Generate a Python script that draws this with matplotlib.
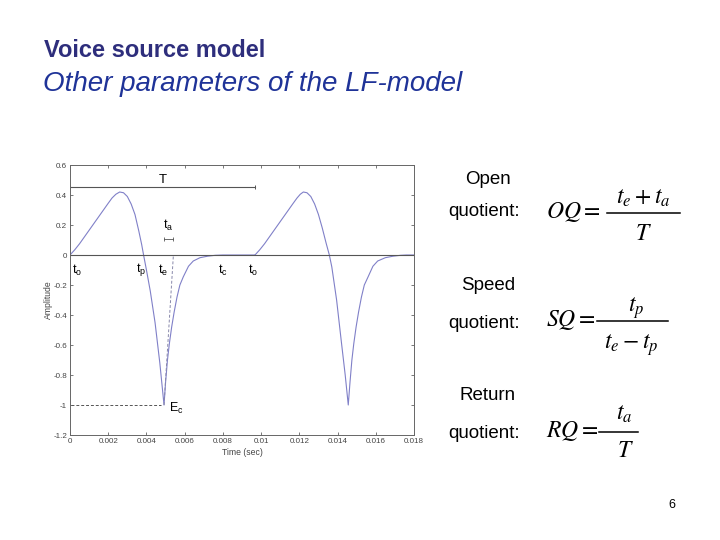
import numpy as np
import matplotlib
matplotlib.use('Agg')
import matplotlib.pyplot as plt
from matplotlib.lines import Line2D

plt.rcParams['font.family'] = ['Liberation Sans', 'DejaVu Sans']

# LF-model glottal flow derivative (time in ms)
t_cycle1 = [0, 0.25, 0.5, 0.75, 1.0, 1.25, 1.5, 1.75, 2.0, 2.2, 2.4, 2.6, 2.8, 3.0, 3.2, 3.4,
            3.6, 3.75, 3.85, 4.0, 4.2, 4.45, 4.7, 4.92, 5.0, 5.1, 5.2, 5.32, 5.45, 5.6, 5.75,
            5.93, 6.2, 6.45, 6.8, 7.2, 7.6, 8.0, 9.68]
a_cycle1 = [0, 0.035, 0.075, 0.12, 0.165, 0.21, 0.255, 0.3, 0.345, 0.38, 0.405, 0.42, 0.415,
            0.39, 0.34, 0.27, 0.16, 0.07, 0, -0.1, -0.24, -0.45, -0.72, -1.0, -0.85, -0.70,
            -0.59, -0.48, -0.38, -0.28, -0.2, -0.145, -0.075, -0.04, -0.018, -0.008, -0.002,
            0, 0]
t_cycle2 = [9.68, 9.93, 10.18, 10.43, 10.68, 10.93, 11.18, 11.43, 11.68, 11.88, 12.05, 12.21,
            12.4, 12.6, 12.8, 13.0, 13.2, 13.4, 13.57, 13.7, 13.95, 14.2, 14.4, 14.56, 14.65,
            14.75, 14.85, 14.97, 15.1, 15.25, 15.4, 15.6, 15.85, 16.1, 16.5, 16.9, 17.3, 17.6,
            18.0]
a_cycle2 = [0, 0.035, 0.075, 0.12, 0.165, 0.21, 0.255, 0.3, 0.345, 0.38, 0.405, 0.42, 0.415,
            0.39, 0.34, 0.27, 0.18, 0.08, 0, -0.08, -0.3, -0.58, -0.8, -1.0, -0.85, -0.70,
            -0.59, -0.48, -0.38, -0.28, -0.2, -0.145, -0.075, -0.04, -0.018, -0.008, -0.002,
            0, 0]

# instants (ms) and levels
t_o, t_p, t_e, t_c, t_o2 = 0.0, 3.85, 4.92, 8.0, 9.68
t_a_end = 5.41
E_e = -1.0
T_level = 0.453

xticks = [0, 0.002, 0.004, 0.006, 0.008, 0.01, 0.012, 0.014, 0.016, 0.018]
xticklabels = ['0', '0.002', '0.004', '0.006', '0.008', '0.01', '0.012', '0.014', '0.016', '0.018']
yticks = [0.6, 0.4, 0.2, 0, -0.2, -0.4, -0.6, -0.8, -1, -1.2]
yticklabels = ['0.6', '0.4', '0.2', '0', '-0.2', '-0.4', '-0.6', '-0.8', '-1', '-1.2']

ms = 1e-3
W, H = 720, 540

def fx(px):
    return px / W

def fy(py):
    return 1 - py / H

fig = plt.figure(figsize=(7.2, 5.4), dpi=100)
fig.patch.set_facecolor('white')

# slide titles
fig.text(fx(44), fy(57), 'Voice source model', fontsize=17, fontweight='bold',
         color='#2e2e7c', va='baseline', ha='left')
fig.text(fx(43), fy(91), 'Other parameters of the LF-model', fontsize=20, fontstyle='italic',
         color='#1f3398', va='baseline', ha='left')

# waveform axes
ax = fig.add_axes([fx(70), fy(435), 344 / W, 270 / H])
wave_col = '#8080c8'
ax.plot(np.array(t_cycle1) * ms, a_cycle1, color=wave_col, lw=0.8)
ax.plot(np.array(t_cycle2) * ms, a_cycle2, color=wave_col, lw=0.8)
ax.axhline(0, color='#555555', lw=0.8)

# return-phase tangent and E_e level
ax.plot([t_e * ms, t_a_end * ms], [E_e, 0], color='#8888aa', lw=0.7, ls=(0, (3, 2)))
ax.plot([0.05 * ms, 4.75 * ms], [E_e, E_e], color='#555555', lw=0.7, ls=(0, (3, 2)))

# period T
ax.plot([t_o * ms, t_o2 * ms], [T_level, T_level], color='#555555', lw=0.8)
ax.plot([t_o * ms, t_o2 * ms], [T_level, T_level], ls='none', marker='|', ms=3,
        color='#555555', mew=0.7)
ax.text((t_o + t_o2) / 2 * ms, 0.5, 'T', fontsize=9.5, ha='center', va='center')

# t_a bracket
ax.plot([t_e * ms, t_a_end * ms], [0.105, 0.105], color='#555555', lw=0.6)
ax.plot([t_e * ms, t_a_end * ms], [0.105, 0.105], ls='none', marker='|', ms=2.5,
        color='#555555', mew=0.6)
ax.text(5.12 * ms, 0.2, r'$\mathregular{t_a}$', fontsize=9, ha='center', va='center')

# instants
for tx, lab in [(0.35, 't_o'), (3.72, 't_p'), (4.87, 't_e'), (7.99, 't_c'), (9.6, 't_o')]:
    ax.text(tx * ms, -0.1, r'$\mathregular{%s}$' % lab, fontsize=9, ha='center', va='center')
ax.text(5.2 * ms, -1.02, r'$\mathregular{E_c}$', fontsize=9, ha='left', va='center')

ax.set_xlim(0, 0.018)
ax.set_ylim(-1.2, 0.6)
ax.set_xticks(xticks)
ax.set_xticklabels(xticklabels)
ax.set_yticks(yticks)
ax.set_yticklabels(yticklabels)
ax.tick_params(direction='in', length=2, width=0.5, top=True, right=True,
               labelsize=5.8, colors='#444444', pad=2)
for sp in ax.spines.values():
    sp.set_color('#666666')
    sp.set_linewidth(0.7)
ax.set_xlabel('Time (sec)', fontsize=6.2, color='#444444', labelpad=2)
ax.set_ylabel('Amplitude', fontsize=6.2, color='#444444', labelpad=0)

# quotient definitions: word, word y, lhs, bar y, bar x0, bar x1, numerator (x, y), denominator (x, y)
quotients = [
    ('Open', 180, 212, r'$OQ=$', 213, 607, 680, r'$t_e+t_a$', 643, 198, r'$T$', 643, 234),
    ('Speed', 286, 323, r'$SQ=$', 321, 597, 668, r'$t_p$', 636, 308, r'$t_e-t_p$', 631, 345),
    ('Return', 395, 433, r'$RQ=$', 432, 599, 638, r'$t_a$', 624, 414, r'$T$', 625, 451),
]
fs_math = 17
for (word, y1, y2, lhs, ybar, bx0, bx1, num, nx, ny, den, dx, dy) in quotients:
    fig.text(fx(488), fy(y1), word, fontsize=13.5, ha='center', va='center')
    fig.text(fx(484), fy(y2), 'quotient:', fontsize=13.5, ha='center', va='center')
    fig.text(fx(546), fy(ybar - 1), lhs, fontsize=fs_math, ha='left', va='center',
             math_fontfamily='stix')
    fig.add_artist(Line2D([fx(bx0), fx(bx1)], [fy(ybar), fy(ybar)], color='black', lw=1.1,
                          transform=fig.transFigure))
    fig.text(fx(nx), fy(ny), num, fontsize=fs_math, ha='center', va='center',
             math_fontfamily='stix')
    fig.text(fx(dx), fy(dy), den, fontsize=fs_math, ha='center', va='center',
             math_fontfamily='stix')

fig.text(fx(672), fy(505), '6', fontsize=9, ha='center', va='center')

fig.savefig('out.png', dpi=100)
